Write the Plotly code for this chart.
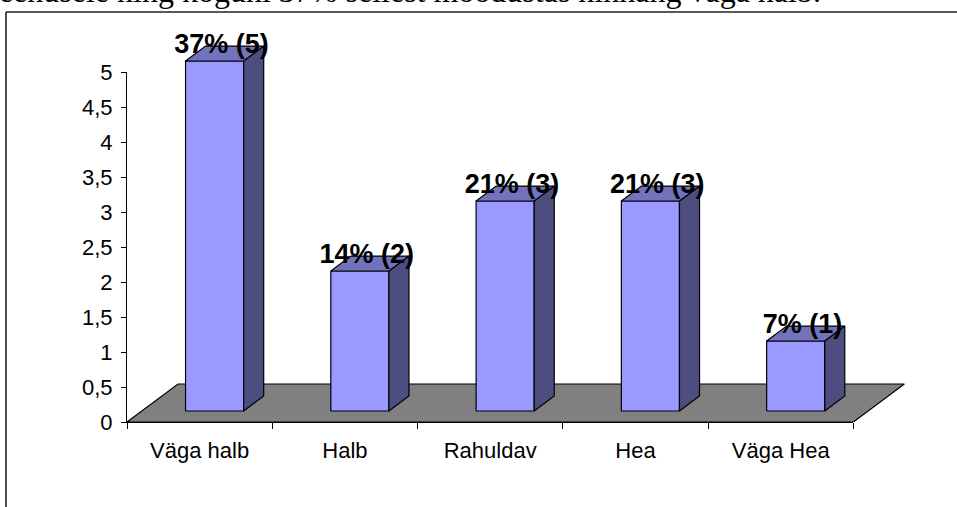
import plotly.graph_objects as go

# ---- data ----
categories = ["Väga halb", "Halb", "Rahuldav", "Hea", "Väga Hea"]
counts = [5, 2, 3, 3, 1]
percents = ["37%", "14%", "21%", "21%", "7%"]
y_tick_vals = [0, 0.5, 1, 1.5, 2, 2.5, 3, 3.5, 4, 4.5, 5]
y_tick_text = ["0", "0,5", "1", "1,5", "2", "2,5", "3", "3,5", "4", "4,5", "5"]
doc_text = "teenusele ning koguni 37% sellest moodustas hinnang väga halb."

# ---- 3D geometry (data units) ----
W, H = 957, 507
ML, MR, MB, MT = 127, 31, 85, 16
X0, X1 = -0.5, 5.0
Y0, Y1 = 0.0, 5.8
n = len(categories)
floor_dx, floor_dy = 0.351, 0.543
shift_dx, shift_dy = 0.103, 0.157
half_w = 0.2
bar_dx, bar_dy = 0.138, 0.214

front_col = "#9999FF"
side_col = "#4D4D80"
top_col = "#7373BD"
floor_col = "#808080"

fig = go.Figure()

def poly(xs, ys, color):
    fig.add_trace(go.Scatter(
        x=xs + [xs[0]], y=ys + [ys[0]], mode="lines", fill="toself",
        fillcolor=color, line=dict(color="black", width=1.2),
        hoverinfo="skip", showlegend=False))

# floor
poly([-0.5, n - 0.5, n - 0.5 + floor_dx, -0.5 + floor_dx],
     [0, 0, floor_dy, floor_dy], floor_col)

# bars
for i, v in enumerate(counts):
    x0 = i + shift_dx - half_w
    x1 = i + shift_dx + half_w
    yb = shift_dy
    yt = shift_dy + v
    poly([x0, x1, x1, x0], [yb, yb, yt, yt], front_col)
    poly([x1, x1 + bar_dx, x1 + bar_dx, x1], [yb, yb + bar_dy, yt + bar_dy, yt], side_col)
    poly([x0, x1, x1 + bar_dx, x0 + bar_dx], [yt, yt, yt + bar_dy, yt + bar_dy], top_col)

# labels
fig.add_trace(go.Scatter(
    x=[i + 0.15 for i in range(n)],
    y=[shift_dy + bar_dy + v for v in counts],
    mode="text",
    text=[f"{p} ({c})" for p, c in zip(percents, counts)],
    textposition="middle center",
    textfont=dict(family="Liberation Sans, Arial", size=27, color="black", weight="bold"),
    cliponaxis=False, hoverinfo="skip", showlegend=False))

# empty trace to create display-axis subplot
fig.add_trace(go.Scatter(x=[None], y=[None], xaxis="x2", yaxis="y2",
                         showlegend=False, hoverinfo="skip"))

plot_w = W - ML - MR
plot_h = H - MT - MB

def px_to_paper_x(px):
    return (px - ML) / plot_w

def px_to_paper_y(py):
    return (H - MB - py) / plot_h

tick_font = dict(family="Liberation Sans, Arial", size=22, color="black")

fig.update_layout(
    width=W, height=H,
    margin=dict(l=ML, r=MR, t=MT, b=MB, autoexpand=False),
    paper_bgcolor="white", plot_bgcolor="rgba(0,0,0,0)",
    xaxis=dict(range=[X0, X1], visible=False, domain=[0, 1]),
    yaxis=dict(range=[Y0, Y1], visible=False, domain=[0, 1]),
    xaxis2=dict(
        domain=[0, n / (X1 - X0)],
        range=[-0.5, n - 0.5], anchor="y2",
        showline=True, linecolor="black", linewidth=1,
        tickvals=list(range(n)), ticktext=categories,
        ticks="", tickfont=tick_font, ticklabelstandoff=9,
        minor=dict(tickvals=[i - 0.5 for i in range(n + 1)], ticks="outside",
                   ticklen=6, tickcolor="black", tickwidth=1, showgrid=False),
        showgrid=False, zeroline=False, fixedrange=True, automargin=False),
    yaxis2=dict(
        domain=[0, (max(y_tick_vals) - Y0) / (Y1 - Y0)],
        range=[0, max(y_tick_vals)], anchor="x2",
        showline=True, linecolor="black", linewidth=1,
        tickvals=y_tick_vals, ticktext=y_tick_text,
        ticks="outside", ticklen=5, tickcolor="black",
        tickfont=tick_font, ticklabelstandoff=4,
        showgrid=False, zeroline=False, fixedrange=True, automargin=False),
    shapes=[
        dict(type="line", xref="paper", yref="paper",
             x0=px_to_paper_x(6), x1=px_to_paper_x(6),
             y0=px_to_paper_y(12), y1=px_to_paper_y(520),
             line=dict(color="#222222", width=1.6)),
        dict(type="line", xref="paper", yref="paper",
             x0=px_to_paper_x(6), x1=px_to_paper_x(970),
             y0=px_to_paper_y(12), y1=px_to_paper_y(12),
             line=dict(color="#222222", width=1.6)),
    ],
    annotations=[
        dict(text=doc_text, xref="paper", yref="paper",
             x=px_to_paper_x(-12), y=px_to_paper_y(-9),
             xanchor="left", yanchor="middle", showarrow=False,
             font=dict(family="Liberation Serif, Times New Roman", size=32, color="black")),
    ],
)

fig.write_html("out.html", config={"displayModeBar": False},
               post_script="document.body.style.margin='0px';")
